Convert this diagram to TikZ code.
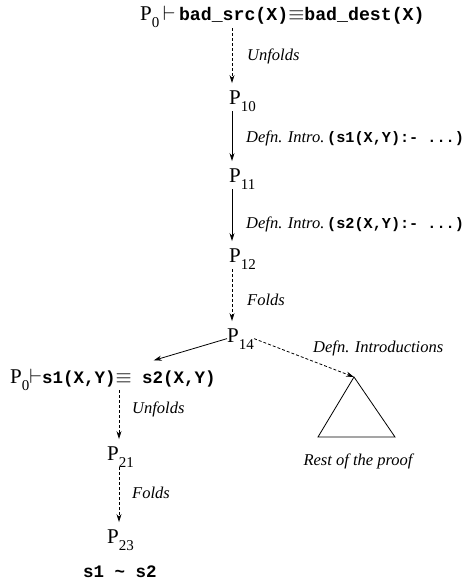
\documentclass[tikz,border=0pt]{standalone}
\usepackage{amsmath,amssymb}
\usepackage{fontspec}
\setmainfont{Liberation Serif}
\setmonofont{Liberation Mono}
\usetikzlibrary{calc}
\usetikzlibrary{arrows.meta}
\newcommand{\Pst}[1]{P\raisebox{-7pt}{\fontsize{15}{15}\selectfont #1}}
\newcommand{\cd}[1]{{\fontsize{17.5}{19}\selectfont\ttfamily\bfseries #1}}
\newcommand{\cdt}[1]{{\fontsize{18.2}{20}\selectfont\ttfamily\bfseries #1}}
\newcommand{\cdl}[1]{{\fontsize{15.2}{17}\selectfont\upshape\ttfamily\bfseries #1}}
\tikzset{
	st/.style={inner sep=0pt,anchor=base west,font=\fontsize{21}{23}\selectfont},
	lab/.style={inner sep=0pt,anchor=base west,font=\itshape\fontsize{16.5}{18}\selectfont},
	arr/.style={draw=black,line width=0.8pt,-{Stealth[length=8pt,width=5pt]},shorten >=7pt},
	darr/.style={arr,dash pattern=on 3pt off 2pt},
}

\begin{document}
\begin{tikzpicture}[x=1pt,y=-1pt]
			\useasboundingbox (0,0) rectangle (466,586);
			\coordinate (colA) at (232,0);
			\coordinate (colB) at (119,0);
			% the main chain
			\node[st] (p0) at (140,21) {\Pst{0}\,$\vdash$\,\cdt{bad\_src(X)}$\equiv$\cdt{bad\_dest(X)}};
			\node[st] (p10) at (229,104) {\Pst{10}};
			\node[st] (p11) at (229,182) {\Pst{11}};
			\node[st] (p12) at (229,262) {\Pst{12}};
			\node[st] (p14) at (227,342) {\Pst{14}};
			\draw[darr] (p0.south -| colA) -- (p10.north -| colA);
			\draw[arr] (p10.south -| colA) -- (p11.north -| colA);
			\draw[arr] (p11.south -| colA) -- (p12.north -| colA);
			\draw[darr] (p12.south -| colA) -- (p14.north -| colA);
			\node[lab] (u1) at (247,60) {Unfolds};
			\node[lab] (d1) at (246,142) {Defn. Intro.\,\cdl{(s1(X,Y):- ...)}};
			\node[lab] (d2) at (246,228) {Defn. Intro.\,\cdl{(s2(X,Y):- ...)}};
			\node[lab] (f1) at (247,305) {Folds};
			% the sub goal
			\node[st] (q0) at (10,383) {\Pst{0}$\vdash$\cd{s1(X,Y)}$\equiv$\cd{ s2(X,Y)}};
			\node[st] (p21) at (107,460) {\Pst{21}};
			\node[st] (p23) at (107,543) {\Pst{23}};
			\node[st] (res) at (83,577) {\cd{s1 \textasciitilde{} s2}};
			\draw[arr] (p14.west) -- ([xshift=34pt,yshift=6pt]q0.north);
			\draw[darr] (q0.south -| colB) -- (p21.north -| colB);
			\draw[darr] (p21.south -| colB) -- (p23.north -| colB);
			\node[lab] (u2) at (132,413) {Unfolds};
			\node[lab] (f2) at (132,498) {Folds};
			% rest of the proof
			\coordinate (apex) at (354,377);
			\draw[line width=0.8pt] (apex) -- (318,437) -- (395,437) -- cycle;
			\draw[darr,shorten >=0pt] (p14.east) -- (apex);
			\node[lab] (di) at (313,352) {Defn. Introductions};
			\node[lab,anchor=base] (rp) at (358,465) {Rest of the proof};
		\end{tikzpicture}
\end{document}
